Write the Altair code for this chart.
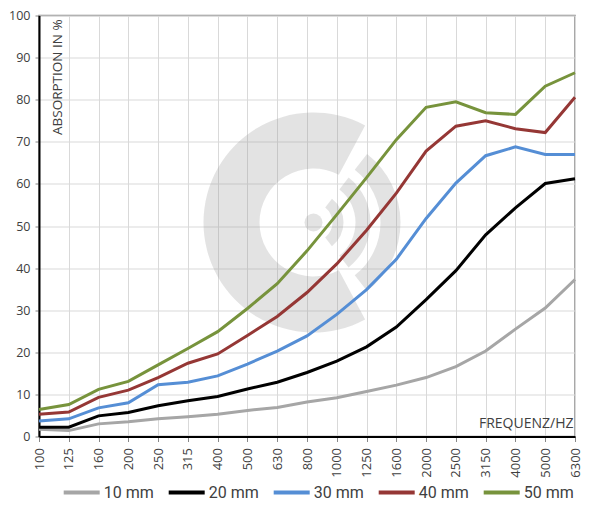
import altair as alt
import pandas as pd
import math

freqs = ["100", "125", "160", "200", "250", "315", "400", "500", "630", "800",
         "1000", "1250", "1600", "2000", "2500", "3150", "4000", "5000", "6300"]

mm10 = [1.7, 1.4, 3.0, 3.5, 4.2, 4.7, 5.3, 6.2, 6.9, 8.2, 9.2, 10.7, 12.2, 14.0, 16.6, 20.3, 25.5, 30.5, 37.3]
mm20 = [2.2, 2.2, 4.9, 5.7, 7.3, 8.5, 9.5, 11.3, 12.9, 15.2, 17.9, 21.3, 26.0, 32.5, 39.4, 47.9, 54.3, 60.1, 61.2]
mm30 = [3.7, 4.2, 6.8, 8.0, 12.3, 12.9, 14.4, 17.2, 20.3, 23.9, 29.0, 34.9, 42.1, 51.8, 60.2, 66.7, 68.8, 67.0, 67.0]
mm40 = [5.3, 5.8, 9.3, 11.0, 14.0, 17.4, 19.6, 24.0, 28.5, 34.2, 41.0, 49.0, 57.8, 67.8, 73.7, 75.0, 73.1, 72.2, 80.6]
mm50 = [6.4, 7.6, 11.2, 13.1, 17.0, 20.9, 24.9, 30.4, 36.3, 44.1, 52.7, 61.5, 70.5, 78.2, 79.5, 76.9, 76.5, 83.2, 86.4]

series_names = ["10 mm", "20 mm", "30 mm", "40 mm", "50 mm"]
series_values = [mm10, mm20, mm30, mm40, mm50]
colors = ["#a6a6a6", "#000000", "#558ed5", "#953735", "#77933c"]

rows = []
for name, vals in zip(series_names, series_values):
    for f, v in zip(freqs, vals):
        rows.append({"freq": f, "val": v, "series": name})
df = pd.DataFrame(rows)

FONT = "Open Sans"
TXT = "#404040"

lines = alt.Chart(df).mark_line(strokeWidth=3).encode(
    x=alt.X(
        "freq:N", sort=freqs, scale=alt.Scale(padding=0),
        axis=alt.Axis(
            title="FREQUENZ/HZ", labelAngle=-90, labelAlign="right", labelBaseline="middle",
            labelFontSize=13, labelFont=FONT, labelColor=TXT, labelPadding=6,
            tickSize=5, tickColor="#888888", domainColor="#000000", domainWidth=2,
            grid=True, gridColor="#d9d9d9", gridWidth=1,
            titleX=534, titleY=-13, titleAlign="right", titleBaseline="middle",
            titleFontSize=14, titleFontWeight="normal", titleFont=FONT, titleColor=TXT,
        ),
    ),
    y=alt.Y(
        "val:Q", scale=alt.Scale(domain=[0, 100], nice=False),
        axis=alt.Axis(
            title="ABSORPTION IN %", values=list(range(0, 101, 10)),
            labelFontSize=12.5, labelFont=FONT, labelColor=TXT, labelPadding=5,
            tickSize=4, tickColor="#888888", domainColor="#000000", domainWidth=2,
            grid=True, gridColor="#d9d9d9", gridWidth=1,
            titleAngle=270, titleX=18, titleY=119, titleAlign="left", titleBaseline="middle",
            titleFontSize=13.5, titleFontWeight="normal", titleFont=FONT, titleColor=TXT,
        ),
    ),
    color=alt.Color(
        "series:N", scale=alt.Scale(domain=series_names, range=colors),
        legend=alt.Legend(
            title=None, orient="none", legendX=22.7, legendY=457, direction="horizontal",
            symbolType="stroke", symbolSize=1296, symbolStrokeWidth=4,
            labelFontSize=16, labelFont="Roboto", labelColor=TXT, labelOffset=2,
            columnPadding=6, padding=0,
        ),
    ),
)

# watermark logo
wm = pd.DataFrame({"k": [0]})
cx, cy = 274.5, 207
WM_COLOR = "#9a9c9c"
WM_OP = 0.28
deg = math.pi / 180


def arc(r_in, r_out, t1, t2):
    return alt.Chart(wm).mark_arc(
        radius=r_out, radius2=r_in, theta=t1, theta2=t2,
        color=WM_COLOR, opacity=WM_OP,
    ).encode(x=alt.value(cx), y=alt.value(cy))


layers = [
    arc(54, 110, 152 * deg, 388 * deg),
    arc(0, 9, 0, 360 * deg),
    arc(19, 30, 38 * deg, 142 * deg),
    arc(42, 57, 38 * deg, 142 * deg),
    arc(67, 87, 38 * deg, 142 * deg),
    lines,
]

chart = alt.layer(*layers).properties(
    width=536, height=421,
    autosize=alt.AutoSizeParams(type="none"),
    padding={"left": 31, "top": 7.5, "right": 7, "bottom": 66.5},
).configure_view(stroke="#8c8c8c", strokeWidth=1.5)

chart.save("out.html", embed_options={"renderer": "svg", "actions": False})
